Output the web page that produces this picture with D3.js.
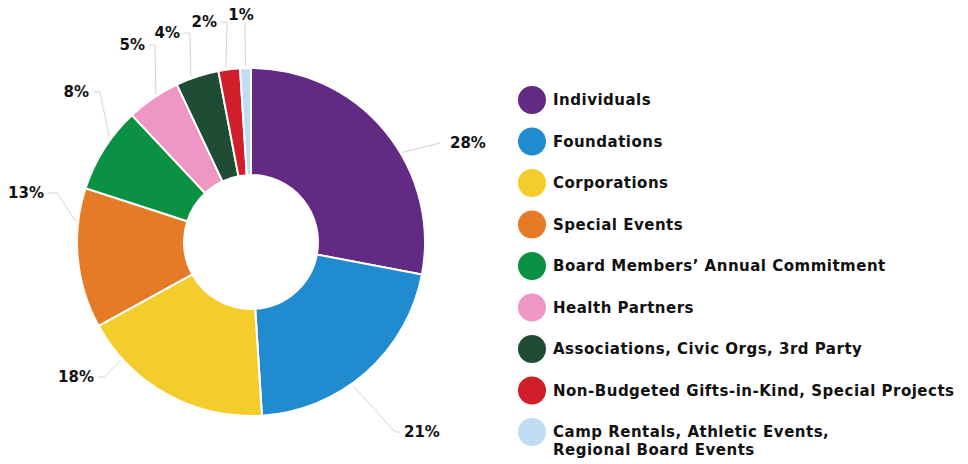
<!DOCTYPE html>
<html>
<head>
<meta charset="utf-8">
<script src="https://cdn.jsdelivr.net/npm/d3@7"></script>
<style>
  body { margin: 0; background: #fff; }
  svg text { font-family: "DejaVu Sans", sans-serif; font-weight: bold; fill: #111; }
</style>
</head>
<body>
<svg id="chart"></svg>
<script>
var w = 968, h = 464;

// data
var categories = ["Individuals", "Foundations", "Corporations", "Special Events",
  "Board Members\u2019 Annual Commitment", "Health Partners",
  "Associations, Civic Orgs, 3rd Party", "Non-Budgeted Gifts-in-Kind, Special Projects",
  "Camp Rentals, Athletic Events,|Regional Board Events"];
var values = [28, 21, 18, 13, 8, 5, 4, 2, 1];
var colors = ["#622a82", "#208ccf", "#f4cd2c", "#e67b27", "#0b9144",
  "#ee97c4", "#1e4c35", "#d01f2a", "#c0dcf2"];

// label layout: angle shift (deg) for line start, elbow, line end and text anchor
var labelLayout = [
  {shift: 9,   elbow: [440, 143], end: [440, 143], text: [450, 143], anchor: "start"},
  {shift: 6,   elbow: [395, 432], end: [400, 432], text: [404, 432], anchor: "start"},
  {shift: 19,  elbow: [104, 377], end: [98, 377],  text: [94, 377],  anchor: "end"},
  {shift: 12,  elbow: [57, 193],  end: [48, 193],  text: [44, 193],  anchor: "end"},
  {shift: 4,   elbow: [100, 92],  end: [93, 92],   text: [89, 92],   anchor: "end"},
  {shift: 1.5, elbow: [155, 45],  end: [149, 45],  text: [145, 45],  anchor: "end"},
  {shift: -2,  elbow: [190, 33],  end: [184, 33],  text: [180, 33],  anchor: "end"},
  {shift: -1,  elbow: [227, 22],  end: [221, 22],  text: [217, 22],  anchor: "end"},
  {shift: 0,   elbow: [245, 22],  end: [245, 22],  text: [241, 15],  anchor: "middle"}
];

var cx = 251, cy = 242, R = 174, r0 = 67;

var svg = d3.select("#chart")
  .attr("width", w)
  .attr("height", h);

var pie = d3.pie().sort(null).value(function(d) { return d; });
var arcs = pie(values);

var arc = d3.arc().innerRadius(r0).outerRadius(R);

var g = svg.append("g").attr("transform", "translate(" + cx + "," + cy + ")");

g.selectAll("path")
  .data(arcs)
  .enter()
  .append("path")
  .attr("d", arc)
  .style("fill", function(d, i) { return colors[i]; })
  .style("stroke", "#fff")
  .style("stroke-width", 2);

// leader lines
svg.append("g").selectAll("polyline")
  .data(arcs)
  .enter()
  .append("polyline")
  .attr("points", function(d, i) {
    var L = labelLayout[i];
    var a = (d.startAngle + d.endAngle) / 2 + L.shift * Math.PI / 180;
    var sx = cx + (R + 2) * Math.sin(a), sy = cy - (R + 2) * Math.cos(a);
    return [[sx, sy], L.elbow, L.end].join(" ");
  })
  .style("fill", "none")
  .style("stroke", "#d4d4d4")
  .style("stroke-width", 1);

svg.append("g").selectAll("text")
  .data(arcs)
  .enter()
  .append("text")
  .attr("x", function(d, i) { return labelLayout[i].text[0]; })
  .attr("y", function(d, i) { return labelLayout[i].text[1]; })
  .attr("dy", "0.36em")
  .attr("text-anchor", function(d, i) { return labelLayout[i].anchor; })
  .style("font-size", "15px")
  .text(function(d) { return d.data + "%"; });

// legend
var ly = d3.scalePoint().domain(d3.range(categories.length)).range([100, 432]);

var legend = svg.append("g").selectAll("g")
  .data(categories)
  .enter()
  .append("g")
  .attr("transform", function(d, i) { return "translate(532," + ly(i) + ")"; });

legend.append("circle")
  .attr("r", 14)
  .style("fill", function(d, i) { return colors[i]; });

legend.append("text")
  .attr("x", 21)
  .attr("y", 0)
  .style("font-size", "15px")
  .style("letter-spacing", "0.5px")
  .selectAll("tspan")
  .data(function(d) { return d.split("|"); })
  .enter()
  .append("tspan")
  .attr("x", 21)
  .attr("dy", function(d, i) { return i == 0 ? "0.36em" : "1.2em"; })
  .text(function(d) { return d; });
</script>
</body>
</html>
